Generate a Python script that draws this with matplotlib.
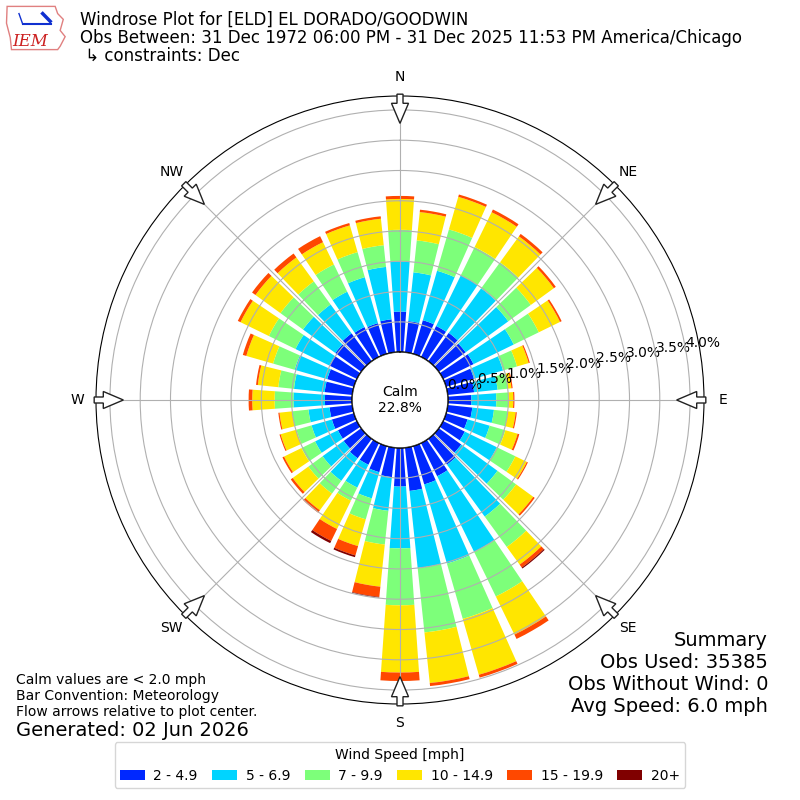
import numpy as np
import matplotlib
matplotlib.use('Agg')
import matplotlib.pyplot as plt
from matplotlib.patches import Circle, FancyArrow, Patch, Polygon

# wind direction bins (deg, meteorological "from")
directions = np.arange(0, 360, 10)
speed_labels = ['2 - 4.9', '5 - 6.9', '7 - 9.9', '10 - 14.9', '15 - 19.9', '20+']
colors = ['#0028ff', '#00d4ff', '#7dff7a', '#ffe600', '#ff4800', '#800000']

# frequency (%) per direction for each speed bin
spd_2_5 = [0.67, 0.52, 0.58, 0.57, 0.58, 0.55, 0.56, 0.48, 0.44, 0.39, 0.41, 0.37,
           0.40, 0.46, 0.53, 0.61, 0.66, 0.72, 0.64, 0.49, 0.45, 0.40, 0.40, 0.36,
           0.35, 0.38, 0.38, 0.45, 0.46, 0.46, 0.51, 0.53, 0.57, 0.55, 0.53, 0.55]
spd_5_7 = [0.83, 0.81, 0.85, 0.93, 0.91, 0.87, 0.74, 0.50, 0.39, 0.41, 0.36, 0.38,
           0.59, 0.74, 1.06, 1.39, 1.36, 1.28, 1.02, 0.56, 0.45, 0.42, 0.46, 0.43,
           0.42, 0.35, 0.35, 0.52, 0.51, 0.56, 0.62, 0.66, 0.59, 0.65, 0.79, 0.87]
spd_7_10 = [0.52, 0.53, 0.71, 0.52, 0.53, 0.46, 0.46, 0.24, 0.17, 0.20, 0.23, 0.27,
            0.34, 0.38, 0.62, 0.82, 0.95, 1.07, 0.94, 0.56, 0.36, 0.24, 0.26, 0.29,
            0.25, 0.26, 0.27, 0.31, 0.26, 0.37, 0.49, 0.46, 0.47, 0.50, 0.43, 0.36]
spd_10_15 = [0.51, 0.47, 0.56, 0.64, 0.53, 0.47, 0.39, 0.20, 0.06, 0.08, 0.13, 0.21,
             0.21, 0.35, 0.36, 0.70, 0.96, 0.84, 1.11, 0.70, 0.46, 0.52, 0.34, 0.32,
             0.32, 0.27, 0.21, 0.37, 0.34, 0.46, 0.52, 0.51, 0.49, 0.41, 0.46, 0.44]
spd_15_20 = [0.05, 0.04, 0.04, 0.05, 0.05, 0.04, 0.03, 0.02, 0.02, 0.02, 0.02, 0.03,
             0.02, 0.03, 0.06, 0.08, 0.05, 0.05, 0.14, 0.17, 0.16, 0.22, 0.05, 0.04,
             0.03, 0.02, 0.02, 0.06, 0.03, 0.06, 0.05, 0.07, 0.08, 0.11, 0.04, 0.04]
spd_20p = [0.00, 0.00, 0.00, 0.00, 0.00, 0.00, 0.00, 0.00, 0.00, 0.00, 0.00, 0.00,
           0.00, 0.00, 0.02, 0.00, 0.00, 0.00, 0.00, 0.01, 0.03, 0.04, 0.00, 0.00,
           0.00, 0.00, 0.00, 0.00, 0.00, 0.00, 0.00, 0.00, 0.00, 0.00, 0.00, 0.00]

calm_pct = 22.8
rticks = np.arange(0, 4.01, 0.5)
rmax = 4.23
compass = ['N', 'NE', 'E', 'SE', 'S', 'SW', 'W', 'NW']

title_lines = ['Windrose Plot for [ELD] EL DORADO/GOODWIN',
               'Obs Between: 31 Dec 1972 06:00 PM - 31 Dec 2025 11:53 PM America/Chicago',
               ' \u21b3 constraints: Dec']
summary_lines = ['Summary', 'Obs Used: 35385', 'Obs Without Wind: 0', 'Avg Speed: 6.0 mph']
notes_lines = ['Calm values are < 2.0 mph', 'Bar Convention: Meteorology',
               'Flow arrows relative to plot center.']

fig = plt.figure(figsize=(8, 8), dpi=100)
ax = fig.add_axes([0.12, 0.12, 0.76, 0.76], projection='polar')
ax.set_theta_zero_location('N')
ax.set_theta_direction(-1)

theta = np.deg2rad(directions)
width = np.deg2rad(8)
bottom = np.zeros(len(directions))
for vals, col in zip([spd_2_5, spd_5_7, spd_7_10, spd_10_15, spd_15_20, spd_20p], colors):
    vals = np.array(vals)
    ax.bar(theta, vals, width=width, bottom=bottom, color=col, linewidth=0)
    bottom = bottom + vals

ax.set_ylim(0, rmax)
ax.set_rorigin(-0.79)
ax.set_yticks(rticks)
ax.set_yticklabels(['%.1f%%' % r for r in rticks], fontsize=10)
ax.set_rlabel_position(80)
ax.set_xticks(np.deg2rad(np.arange(0, 360, 45)))
ax.set_xticklabels(compass, fontsize=10)
ax.tick_params(axis='x', pad=3)
ax.grid(True, color='#b0b0b0', linewidth=0.8)

# calm circle
ax.add_patch(Circle((0.5, 0.5), 48 / 608, transform=ax.transAxes, facecolor='white',
                    edgecolor='black', linewidth=1, zorder=5))
ax.text(0.5, 0.5, 'Calm\n%.1f%%' % calm_pct, transform=ax.transAxes, ha='center',
        va='center', fontsize=10, zorder=6)

# flow arrows on the rim
for ang in np.deg2rad(np.arange(0, 360, 45)):
    r0, r1 = 0.503, 0.455
    x0 = 0.5 + r0 * np.sin(ang)
    y0 = 0.5 + r0 * np.cos(ang)
    dx = (r1 - r0) * np.sin(ang)
    dy = (r1 - r0) * np.cos(ang)
    ax.add_patch(FancyArrow(x0, y0, dx, dy, width=0.0099, head_width=0.028,
                            head_length=0.033, length_includes_head=True,
                            transform=ax.transAxes, facecolor='white',
                            edgecolor='#222222', linewidth=1, clip_on=False, zorder=7))

# header text
for i, line in enumerate(title_lines):
    fig.text(0.1, 1 - (20 + 18 * i) / 800, line, fontsize=12, va='center', ha='left')

# summary
for i, line in enumerate(summary_lines):
    fig.text(0.96, 1 - (640 + 22 * i) / 800, line, fontsize=14, va='center', ha='right')

for i, line in enumerate(notes_lines):
    fig.text(0.02, 1 - (680 + 16 * i) / 800, line, fontsize=10, va='center', ha='left')
fig.text(0.02, 1 - 730 / 800, 'Generated: 02 Jun 2026', fontsize=14, va='center', ha='left')

handles = [Patch(facecolor=c) for c in colors]
fig.legend(handles, speed_labels, loc='lower center', bbox_to_anchor=(0.5, 0.006),
           ncol=6, title='Wind Speed [mph]', fontsize=10, title_fontsize=10,
           handlelength=1.8, handletextpad=0.6, columnspacing=1.05)

# small logo
lax = fig.add_axes([0.005, 0.935, 0.078, 0.06])
lax.set_xlim(0, 1)
lax.set_ylim(0, 1)
lax.axis('off')
lax.add_patch(Polygon([[0.05, 0.95], [0.82, 0.95], [0.86, 0.8], [0.95, 0.68], [0.9, 0.45],
                       [0.98, 0.32], [0.9, 0.12], [0.86, 0.05], [0.12, 0.05], [0.1, 0.3],
                       [0.04, 0.6]],
                      closed=True, fill=False, edgecolor='#e08080', linewidth=1))
lax.plot([0.3, 0.75], [0.58, 0.58], color='#1030d0', linewidth=1.5)
lax.plot([0.3, 0.24], [0.58, 0.8], color='#1030d0', linewidth=1)
lax.plot([0.62, 0.74], [0.8, 0.64], color='#1030d0', linewidth=2.5)
lax.text(0.42, 0.22, 'IEM', color='#cc2020', fontsize=12, family='serif',
         style='italic', ha='center', va='center')

fig.savefig('out.png', dpi=100)
